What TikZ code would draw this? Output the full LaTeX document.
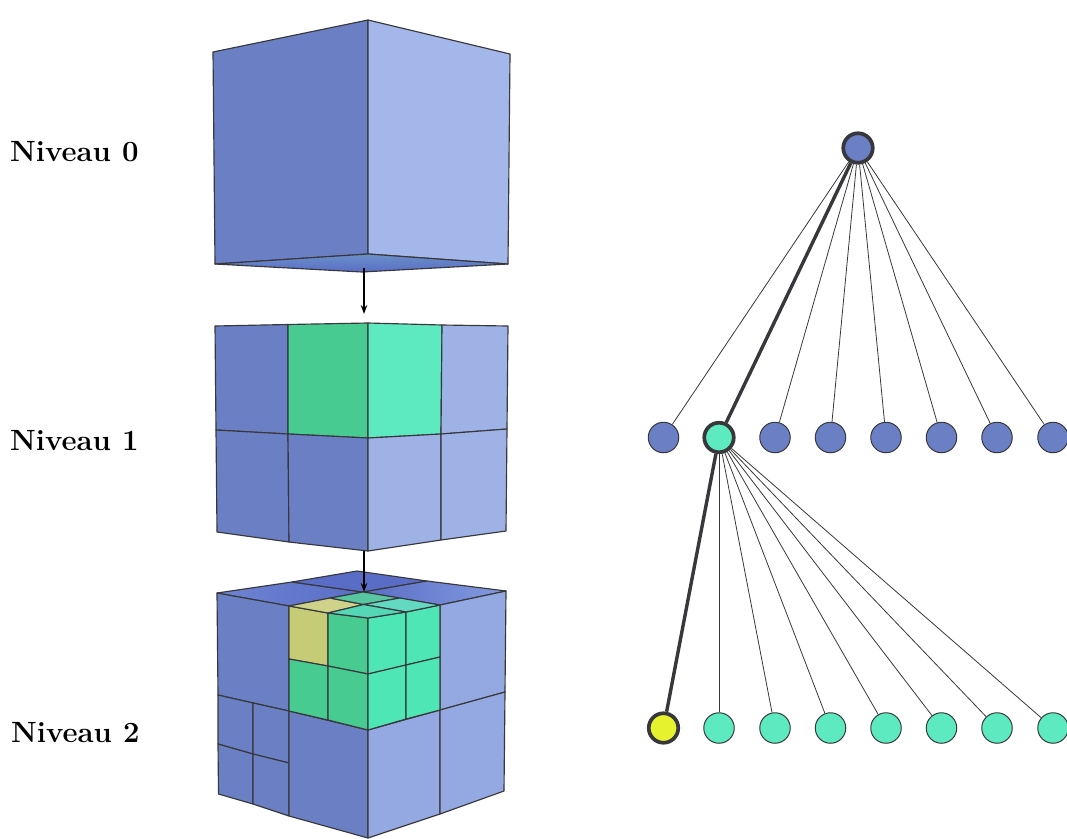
\documentclass[tikz,border=0pt]{standalone}
\usetikzlibrary{arrows.meta}
\definecolor{bleuG}{HTML}{6B80C4}
\definecolor{bleuA}{HTML}{A4B7EA}
\definecolor{bleuB}{HTML}{9EB2E6}
\definecolor{bleuC}{HTML}{94A9E2}
\definecolor{vertF}{HTML}{47CB90}
\definecolor{vertC}{HTML}{5EEAC0}
\definecolor{vertD}{HTML}{4FE6B5}
\definecolor{jaune}{HTML}{C6CB75}
\definecolor{jauneV}{HTML}{E6F22E}
\definecolor{trait}{HTML}{38383C}
\definecolor{dessusF}{HTML}{5A6DC6}
\definecolor{dessusM}{HTML}{6E84D2}
\definecolor{dessusC}{HTML}{849BE0}
\definecolor{dessousH}{HTML}{6A90C8}
\tikzset{
  x=1pt,y=-1pt,
  face/.style={draw=trait,line width=1.15pt,line join=round},
  lien/.style={draw=trait,line width=0.8pt},
  lienfort/.style={draw=trait,line width=3.4pt},
  rond/.style={circle,draw=trait,line width=1pt,minimum size=30.5pt,inner sep=0pt},
  rondfort/.style={circle,draw=trait,line width=3.7pt,minimum size=29.5pt,inner sep=0pt},
  etiq/.style={anchor=base west,inner sep=0pt,font=\fontsize{29.3}{32}\selectfont\bfseries},
  fleche/.style={draw=black,line width=1.2pt,-{Stealth[length=9pt,width=6.5pt]}}
}
\begin{document}
\begin{tikzpicture}
\useasboundingbox (0,0) rectangle (1067,838);
% tree nodes
\node[rond,fill=bleuG] (a1) at (663.5,437.5) {};
\node[rondfort,fill=vertC] (a2) at (719,437.5) {};
\node[rond,fill=bleuG] (a3) at (775,437.5) {};
\node[rond,fill=bleuG] (a4) at (830.5,437.5) {};
\node[rond,fill=bleuG] (a5) at (886,437.5) {};
\node[rond,fill=bleuG] (a6) at (941.5,437.5) {};
\node[rond,fill=bleuG] (a7) at (997,437.5) {};
\node[rond,fill=bleuG] (a8) at (1053,437.5) {};
\node[rondfort,fill=bleuG] (r) at (858,148) {};
\node[rondfort,fill=jauneV] (b1) at (663.5,728) {};
\node[rond,fill=vertC] (b2) at (719,728) {};
\node[rond,fill=vertC] (b3) at (775,728) {};
\node[rond,fill=vertC] (b4) at (830.5,728) {};
\node[rond,fill=vertC] (b5) at (886,728) {};
\node[rond,fill=vertC] (b6) at (941.5,728) {};
\node[rond,fill=vertC] (b7) at (997,728) {};
\node[rond,fill=vertC] (b8) at (1053,728) {};
\foreach \n in {a1,a3,a4,a5,a6,a7,a8} \draw[lien] (r) -- (\n);
\draw[lienfort] (r) -- (a2);
\foreach \n in {b2,b3,b4,b5,b6,b7,b8} \draw[lien] (a2) -- (\n);
\draw[lienfort] (a2) -- (b1);
% labels
\node[etiq] (n0) at (10,161.5) {Niveau 0};
\node[etiq] (n1) at (10,450) {Niveau 1};
\node[etiq] (n2) at (11,742) {Niveau 2};
% cube 0
\filldraw[face,fill=bleuG] (213,52) -- (368,20) -- (368,254) -- (215,264) -- cycle;
\filldraw[face,fill=bleuA] (368,20) -- (510,54) -- (508,264) -- (368,254) -- cycle;
\shadedraw[face,top color=dessousH,bottom color=dessusF] (215,264) -- (368,254) -- (508,264) -- (362,272) -- cycle;
% cube 1
\filldraw[face,fill=bleuG] (215,326) -- (288,324.5) -- (288,434) -- (216,430) -- cycle;
\filldraw[face,fill=vertF] (288,324.5) -- (368,323) -- (368,438) -- (288,434) -- cycle;
\filldraw[face,fill=vertC] (368,323) -- (442,325) -- (441,434) -- (368,438) -- cycle;
\filldraw[face,fill=bleuB] (442,325) -- (508,326) -- (507,429) -- (441,434) -- cycle;
\filldraw[face,fill=bleuG] (216,430) -- (288,434) -- (289,542) -- (217,532) -- cycle;
\filldraw[face,fill=bleuG] (288,434) -- (368,438) -- (368,551) -- (289,542) -- cycle;
\filldraw[face,fill=bleuB] (368,438) -- (441,434) -- (441,540) -- (368,551) -- cycle;
\filldraw[face,fill=bleuB] (441,434) -- (507,429) -- (506,531) -- (441,540) -- cycle;
% cube 2 top
\shadedraw[face,left color=dessusM,right color=dessusF] (217,593) -- (292,582) -- (363,592) -- (289,606) -- cycle;
\filldraw[face,fill=dessusF] (292,582) -- (357,571) -- (427,581) -- (363,592) -- cycle;
\shadedraw[face,left color=dessusF,right color=dessusC] (427,581) -- (506,591) -- (440,605) -- (363,592) -- cycle;
% cube 2 faces
\filldraw[face,fill=bleuG] (217,593) -- (289,606) -- (289,711) -- (218,695) -- cycle;
\filldraw[face,fill=bleuC] (506,591) -- (505,692) -- (440,710) -- (440,605) -- cycle;
\filldraw[face,fill=bleuG] (218,695) -- (253,703) -- (253,754) -- (218,744) -- cycle;
\filldraw[face,fill=bleuG] (253,703) -- (289,711) -- (289,763) -- (253,754) -- cycle;
\filldraw[face,fill=bleuG] (218,744) -- (253,754) -- (253,804) -- (218.5,794) -- cycle;
\filldraw[face,fill=bleuG] (253,754) -- (289,763) -- (289,816) -- (253,804) -- cycle;
\filldraw[face,fill=bleuG] (289,711) -- (368,730) -- (368,838) -- (289,816) -- cycle;
\filldraw[face,fill=bleuC] (368,730) -- (440,710) -- (440,814) -- (368,838) -- cycle;
\filldraw[face,fill=bleuC] (440,710) -- (505,692) -- (504,791) -- (440,814) -- cycle;
% inner small cubes
\filldraw[face,fill=jaune] (289,606) -- (328,613) -- (328,666) -- (289,659) -- cycle;
\filldraw[face,fill=vertF] (328,613) -- (368,618) -- (368,674) -- (328,666) -- cycle;
\filldraw[face,fill=vertF] (289,659) -- (328,666) -- (328,720) -- (289,711) -- cycle;
\filldraw[face,fill=vertF] (328,666) -- (368,674) -- (368,730) -- (328,720) -- cycle;
\filldraw[face,fill=vertD] (368,618) -- (406,612) -- (406,665) -- (368,674) -- cycle;
\filldraw[face,fill=vertD] (406,612) -- (440,605) -- (440,657) -- (406,665) -- cycle;
\filldraw[face,fill=vertD] (368,674) -- (406,665) -- (406,719) -- (368,730) -- cycle;
\filldraw[face,fill=vertD] (406,665) -- (440,657) -- (440,710) -- (406,719) -- cycle;
% inner top
\filldraw[face,fill=jaune!85!white] (289,606) -- (330,598) -- (363.5,604.5) -- (328,613) -- cycle;
\filldraw[face,fill=vertF!80!bleuB] (330,598) -- (363,592) -- (400,598) -- (363.5,604.5) -- cycle;
\filldraw[face,fill=vertD!75!bleuB] (400,598) -- (440,605) -- (406,612) -- (363.5,604.5) -- cycle;
\filldraw[face,fill=vertD!85!bleuG] (363.5,604.5) -- (406,612) -- (368,618) -- (328,613) -- cycle;
% arrows
\coordinate (f0a) at (364,268);
\coordinate (f0b) at (364,314);
\coordinate (f1a) at (364,551);
\coordinate (f1b) at (364,592);
\draw[fleche] (f0a) -- (f0b);
\draw[fleche] (f1a) -- (f1b);
\end{tikzpicture}
\end{document}
